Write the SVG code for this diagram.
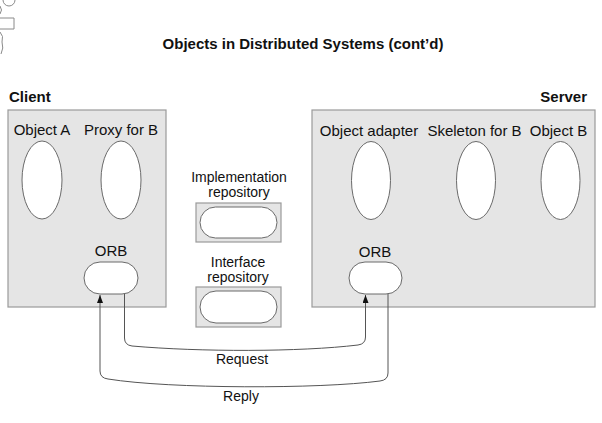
<svg xmlns="http://www.w3.org/2000/svg" width="602" height="423" viewBox="0 0 602 423">
<style>
text{font-family:"Liberation Sans",Arial,Helvetica,sans-serif;fill:#111;font-size:15px}
.b{font-weight:bold}
.m{text-anchor:middle}
.r{font-size:14px}
.box{fill:#e5e5e5;stroke:#9a9a9a;stroke-width:1.2}
.obj{fill:#fff;stroke:#6a6a6a;stroke-width:1}
.con{fill:none;stroke:#555;stroke-width:1}
.art{fill:none;stroke:#8a8a8a;stroke-width:1}
</style>
<defs>
<marker id="ah" markerUnits="userSpaceOnUse" markerWidth="8" markerHeight="6" refX="8" refY="3" orient="auto">
<path d="M0,0 L8,3 L0,6 z" fill="#111"/>
</marker>
</defs>
<rect width="602" height="423" fill="#fff"/>
<g id="artifact">
<path class="art" d="M3,0 A6,6 0 0 0 15,0"/>
<path class="art" d="M0,6 Q3,10 0,14"/>
<path class="art" d="M0,18 L14,18 L14,29 L0,29"/>
<path class="art" d="M0,32 Q4,36 2,42 Q4,48 1,54"/>
</g>
<text id="title" class="b m" x="303" y="49">Objects in Distributed Systems (cont’d)</text>
<g id="client">
<text class="b" x="9" y="102">Client</text>
<rect class="box" x="8" y="110" width="158" height="197"/>
</g>
<g id="server">
<text class="b" x="587" y="102" text-anchor="end">Server</text>
<rect class="box" x="312" y="110" width="283" height="197"/>
</g>
<g id="objectA">
<text class="m" x="42" y="135">Object A</text>
<ellipse class="obj" cx="42" cy="180" rx="20" ry="39"/>
</g>
<g id="proxyB">
<text class="m" x="121" y="135">Proxy for B</text>
<ellipse class="obj" cx="121" cy="180" rx="20" ry="39"/>
</g>
<g id="clientORB">
<text class="m" x="111" y="256">ORB</text>
<rect class="obj" x="84" y="262" width="54" height="32" rx="16"/>
</g>
<g id="objectAdapter">
<text class="m" x="369" y="136">Object adapter</text>
<ellipse class="obj" cx="371" cy="180.5" rx="19.5" ry="39"/>
</g>
<g id="skeletonB">
<text class="m" x="474.5" y="136">Skeleton for B</text>
<ellipse class="obj" cx="476" cy="180.5" rx="19.5" ry="39"/>
</g>
<g id="objectB">
<text class="m" x="558.5" y="136">Object B</text>
<ellipse class="obj" cx="560.5" cy="180.5" rx="19.5" ry="39"/>
</g>
<g id="serverORB">
<text class="m" x="375" y="257">ORB</text>
<rect class="obj" x="349" y="262" width="53" height="32" rx="16"/>
</g>
<g id="implRepo">
<text class="m r" x="239" y="182">Implementation</text>
<text class="m r" x="239" y="197">repository</text>
<rect class="box" x="196" y="203" width="85" height="39"/>
<rect class="obj" x="200" y="207" width="77" height="31" rx="15.5"/>
</g>
<g id="ifaceRepo">
<text class="m r" x="238" y="267">Interface</text>
<text class="m r" x="238" y="282">repository</text>
<rect class="box" x="196" y="287" width="85" height="40"/>
<rect class="obj" x="200" y="291" width="77" height="32" rx="16"/>
</g>
<g id="connectors">
<path class="con" marker-end="url(#ah)" d="M124.5,294 L124.5,338 Q124.5,345 132,346 C200,352 300,352 358,345 Q365.5,344 365.5,337 L365.5,295"/>
<text class="m" x="242" y="364" style="font-size:14px">Request</text>
<path class="con" marker-end="url(#ah)" d="M388,294 L388,373 Q388,380 380,381 C320,389 170,389 108,379 Q100,378 100,371 L100,295"/>
<text class="m" x="241" y="401" style="font-size:14px">Reply</text>
</g>
</svg>
